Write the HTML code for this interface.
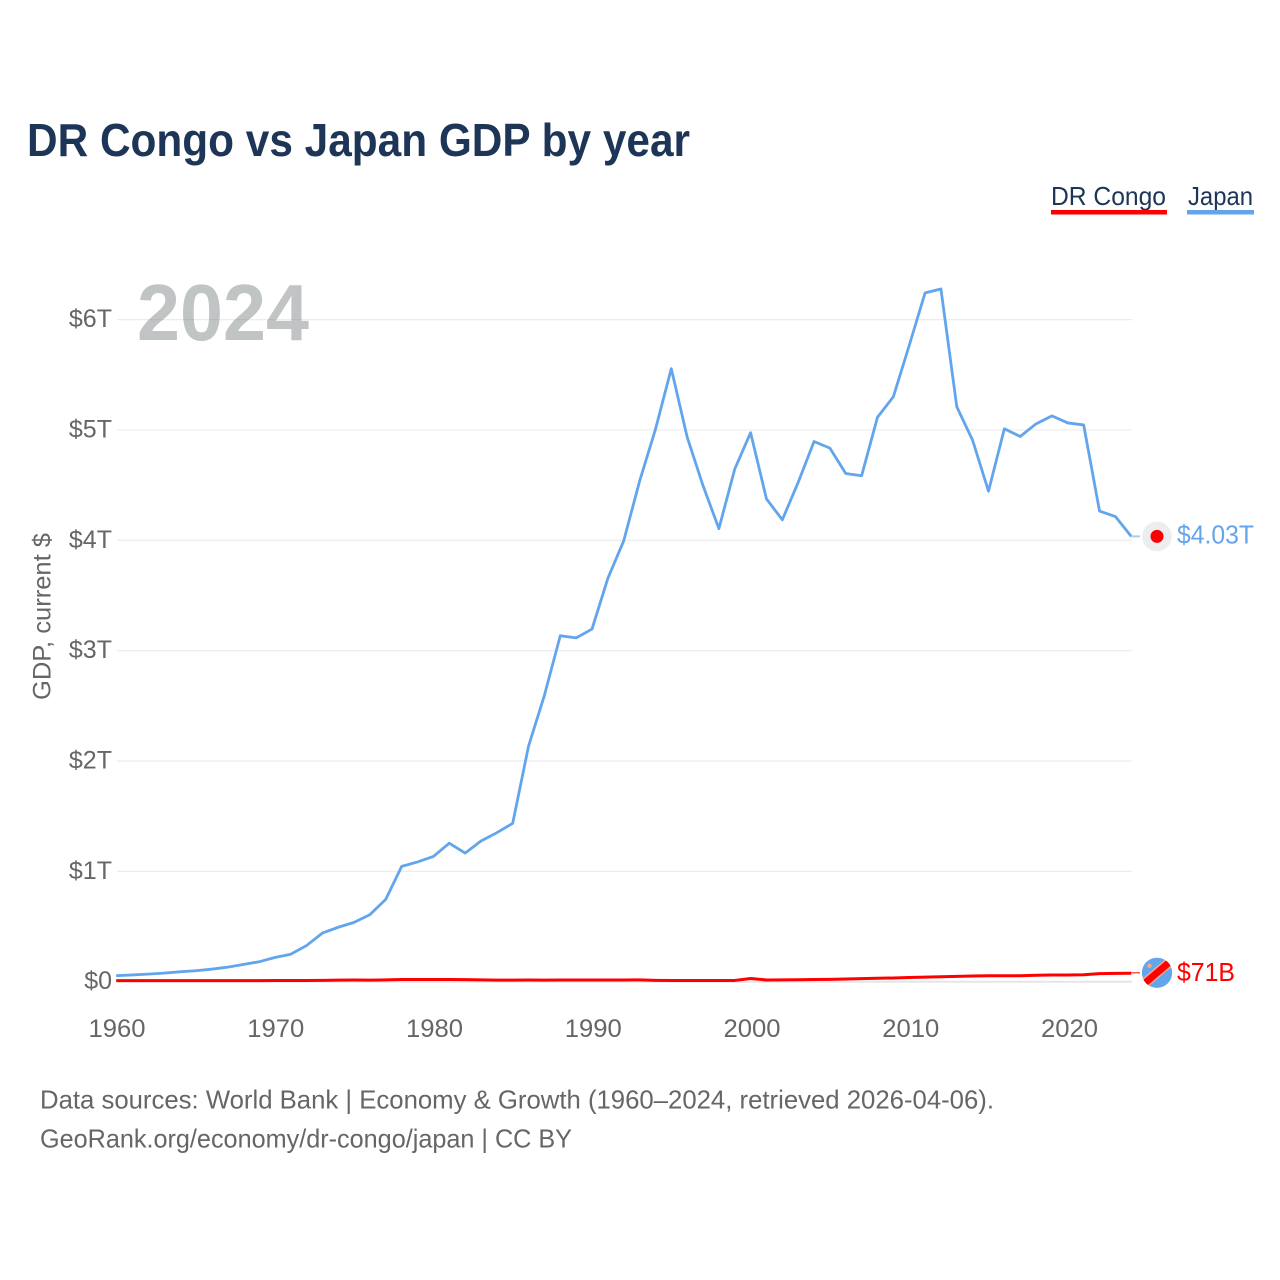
<!DOCTYPE html>
<html lang="en">
<head>
<meta charset="utf-8">
<title>DR Congo vs Japan GDP by year</title>
<style>
html,body{margin:0;padding:0;background:#fff;width:1280px;height:1280px;overflow:hidden}
svg{display:block}
text{font-family:"Liberation Sans",sans-serif}
</style>
</head>
<body>
<svg id="chart" width="1280" height="1280" viewBox="0 0 1280 1280" xmlns="http://www.w3.org/2000/svg">
  <defs>
    <clipPath id="flag-clip"><circle r="15.2"/></clipPath>
  </defs>
  <rect width="1280" height="1280" fill="#fff"/>
  <text x="27" y="156" font-size="46" font-weight="700" fill="#1d3557" textLength="663" lengthAdjust="spacingAndGlyphs">DR Congo vs Japan GDP by year</text>

  <g>
    <text x="1051" y="205" font-size="26" fill="#1d3557" textLength="115" lengthAdjust="spacingAndGlyphs">DR Congo</text>
    <rect x="1051" y="210" width="116" height="4.5" fill="#ff0000"/>
  </g>
  <g>
    <text x="1188" y="205" font-size="26" fill="#1d3557" textLength="65" lengthAdjust="spacingAndGlyphs">Japan</text>
    <rect x="1187" y="210" width="67" height="4.5" fill="#62a5ec"/>
  </g>

  <g id="grid"></g>
  <text x="137" y="340" font-size="80" font-weight="700" fill="#858a8a" opacity="0.5" textLength="172" lengthAdjust="spacingAndGlyphs">2024</text>
  <g id="yticks"></g>
  <g id="xticks"></g>
  <text transform="translate(50.5,700) rotate(-90)" font-size="25" fill="#666" textLength="167" lengthAdjust="spacingAndGlyphs">GDP, current $</text>

  <g id="series"></g>
  <g id="ends"></g>

  <text x="40" y="1108.5" font-size="26" fill="#666" textLength="954" lengthAdjust="spacingAndGlyphs">Data sources: World Bank | Economy &amp; Growth (1960–2024, retrieved 2026-04-06).</text>
  <text x="40" y="1147.5" font-size="26" fill="#666" textLength="532" lengthAdjust="spacingAndGlyphs">GeoRank.org/economy/dr-congo/japan | CC BY</text>
</svg>
<script>
const years = [1960,1961,1962,1963,1964,1965,1966,1967,1968,1969,1970,1971,1972,1973,1974,1975,1976,1977,1978,1979,1980,1981,1982,1983,1984,1985,1986,1987,1988,1989,1990,1991,1992,1993,1994,1995,1996,1997,1998,1999,2000,2001,2002,2003,2004,2005,2006,2007,2008,2009,2010,2011,2012,2013,2014,2015,2016,2017,2018,2019,2020,2021,2022,2023,2024];
const japanTrillions = [0.049,0.056,0.063,0.072,0.084,0.094,0.108,0.126,0.150,0.175,0.214,0.243,0.322,0.435,0.488,0.532,0.602,0.742,1.040,1.080,1.130,1.250,1.160,1.270,1.345,1.430,2.130,2.590,3.130,3.110,3.190,3.650,3.990,4.530,5.000,5.550,4.930,4.490,4.100,4.640,4.970,4.370,4.180,4.520,4.890,4.830,4.600,4.580,5.110,5.295,5.760,6.237,6.272,5.205,4.900,4.440,5.005,4.935,5.050,5.122,5.058,5.040,4.260,4.210,4.030];
const congoBillions = [4,4,4,4,4,4,4,4,4,4,5,5,6,7,9,10,9,11,14,14,14,14,13,11,9,9,10,9,10,10,10,10,10,11,7,6,6,6,6,6,24,10,11,12,14,16,19,22,26,28,33,36,39,43,46,48,48,49,53,55,55,58,68,70,71];
const yTickValues = [0,1,2,3,4,5,6];
const yTickLabels = ["$0","$1T","$2T","$3T","$4T","$5T","$6T"];
const xTickYears = [1960,1970,1980,1990,2000,2010,2020];
const endLabelJapan = "$4.03T";
const endLabelCongo = "$71B";

const NS = "http://www.w3.org/2000/svg";
const xScale = function (year) { return 116.2 + (year - 1960) * 15.86; };
const xTickScale = function (year) { return 117 + (year - 1960) * 15.875; };
const yScale = function (trillions) { return 981.1 - trillions * 110.35; };

function make(tag, parent, props, content) {
  const el = document.createElementNS(NS, tag);
  for (const k in props) el.setAttribute(k, props[k]);
  if (content !== undefined) el.textContent = content;
  parent.appendChild(el);
  return el;
}

const grid = document.getElementById("grid");
const yticks = document.getElementById("yticks");
const xticks = document.getElementById("xticks");
const series = document.getElementById("series");
const ends = document.getElementById("ends");

yTickValues.forEach(function (v, i) {
  const y = yScale(v) + 0.6;
  const line = make("line", grid, {x1: 117, x2: 1132, y1: y, y2: y, stroke: v === 0 ? "#e6e6e8" : "#ececec", "stroke-width": v === 0 ? 2 : 1.2});
  
  
  const label = make("text", yticks, {x: 112, y: y + 7.5, "font-size": 25, fill: "#666", "text-anchor": "end"}, yTickLabels[i]);
  
  
});

xTickYears.forEach(function (yr) {
  const label = make("text", xticks, {x: xTickScale(yr), y: 1037, "font-size": 25, fill: "#666", "text-anchor": "middle", textLength: 57, lengthAdjust: "spacingAndGlyphs"}, String(yr));
  
  
});

function pathFor(values, factor) {
  return values.map(function (v, i) {
    return (i ? "L" : "M") + xScale(years[i]).toFixed(2) + " " + yScale(v * factor).toFixed(2);
  }).join(" ");
}

const japanLine = make("path", series, {d: pathFor(japanTrillions, 1), fill: "none", stroke: "#62a5ec", "stroke-width": 2.8, "stroke-linejoin": "round"});


const congoLine = make("path", series, {d: pathFor(congoBillions, 0.001), fill: "none", stroke: "#ff0000", "stroke-width": 3, "stroke-linejoin": "round"});



const lastX = xScale(years[years.length - 1]);
const jy = yScale(japanTrillions[japanTrillions.length - 1]);
const cy = yScale(congoBillions[congoBillions.length - 1] * 0.001) - 0.5;
const mx = 1157;

const jConn = make("line", ends, {x1: lastX, x2: 1140, y1: jy, y2: jy, stroke: "#a8cdf4", "stroke-width": 2});


const jHalo = make("circle", ends, {cx: mx, cy: jy, r: 14.8, fill: "#ecedef"});


const jDot = make("circle", ends, {cx: mx, cy: jy, r: 6.5, fill: "#ff0000"});


const jLabel = make("text", ends, {x: 1177, y: jy + 7, "font-size": 26, fill: "#62a5ec", textLength: 77, lengthAdjust: "spacingAndGlyphs"}, endLabelJapan);



const cConn = make("line", ends, {x1: lastX, x2: 1140, y1: cy, y2: cy, stroke: "#f55", "stroke-width": 1.5});



const flag = make("g", ends, {transform: "translate(" + mx + " " + cy + ")", "clip-path": "url(#flag-clip)"});


const flagBg = make("circle", flag, {r: 15.2, fill: "#62a5ec"});


const flagEdge = make("line", flag, {x1: -20, y1: 17, x2: 20, y2: -17, stroke: "#f5a98a", "stroke-width": 10});


const flagStripe = make("line", flag, {x1: -20, y1: 17, x2: 20, y2: -17, stroke: "#ff0000", "stroke-width": 7});


const flagStar = make("circle", flag, {cx: -7.5, cy: -7, r: 2.2, fill: "#f5a98a"});



const cLabel = make("text", ends, {x: 1177, y: cy + 8, "font-size": 26, fill: "#ff0000", textLength: 58, lengthAdjust: "spacingAndGlyphs"}, endLabelCongo);


</script>
</body>
</html>
